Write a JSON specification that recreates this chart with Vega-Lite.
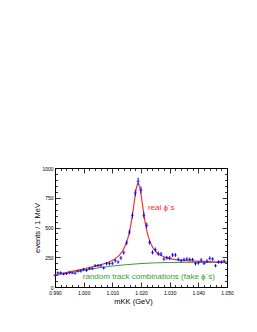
{
  "$schema": "https://vega.github.io/schema/vega-lite/v6.json",
  "autosize": "none",
  "padding": {"left": 55, "top": 168, "right": 30, "bottom": 45},
  "width": 172,
  "height": 119,
  "background": "white",
  "config": {
    "view": {"stroke": "black", "strokeWidth": 1},
    "axis": {"grid": false, "domainColor": "black", "tickColor": "black", "labelColor": "black", "titleColor": "black", "labelFont": "Liberation Sans", "titleFont": "Liberation Sans", "labelFontSize": 5, "titleFontSize": 7.5, "titleFontWeight": "normal", "tickWidth": 0.8, "domainWidth": 1}
  },
  "datasets": {
    "pts": [
      {"m": 0.990, "n": 98, "e": 10}, {"m": 0.991, "n": 120, "e": 11}, {"m": 0.992, "n": 120, "e": 11},
      {"m": 0.993, "n": 109, "e": 10}, {"m": 0.994, "n": 112, "e": 11}, {"m": 0.995, "n": 120, "e": 11},
      {"m": 0.996, "n": 118, "e": 11}, {"m": 0.997, "n": 115, "e": 11}, {"m": 0.998, "n": 132, "e": 11},
      {"m": 0.999, "n": 134, "e": 12}, {"m": 1.000, "n": 146, "e": 12}, {"m": 1.001, "n": 140, "e": 12},
      {"m": 1.002, "n": 154, "e": 12}, {"m": 1.003, "n": 154, "e": 12}, {"m": 1.004, "n": 179, "e": 13},
      {"m": 1.005, "n": 179, "e": 13}, {"m": 1.006, "n": 179, "e": 13}, {"m": 1.007, "n": 160, "e": 13},
      {"m": 1.008, "n": 196, "e": 14}, {"m": 1.009, "n": 196, "e": 14}, {"m": 1.010, "n": 199, "e": 14},
      {"m": 1.011, "n": 221, "e": 15}, {"m": 1.012, "n": 210, "e": 14}, {"m": 1.013, "n": 244, "e": 16},
      {"m": 1.014, "n": 289, "e": 17}, {"m": 1.015, "n": 372, "e": 19}, {"m": 1.016, "n": 462, "e": 21},
      {"m": 1.017, "n": 602, "e": 25}, {"m": 1.018, "n": 790, "e": 28}, {"m": 1.019, "n": 888, "e": 30},
      {"m": 1.020, "n": 815, "e": 29}, {"m": 1.021, "n": 602, "e": 25}, {"m": 1.022, "n": 518, "e": 23},
      {"m": 1.023, "n": 375, "e": 19}, {"m": 1.024, "n": 291, "e": 17}, {"m": 1.025, "n": 314, "e": 18},
      {"m": 1.026, "n": 280, "e": 17}, {"m": 1.027, "n": 277, "e": 17}, {"m": 1.028, "n": 235, "e": 15},
      {"m": 1.029, "n": 246, "e": 16}, {"m": 1.030, "n": 244, "e": 16}, {"m": 1.031, "n": 269, "e": 16},
      {"m": 1.032, "n": 269, "e": 16}, {"m": 1.033, "n": 232, "e": 15}, {"m": 1.034, "n": 221, "e": 15},
      {"m": 1.035, "n": 230, "e": 15}, {"m": 1.036, "n": 235, "e": 15}, {"m": 1.037, "n": 232, "e": 15},
      {"m": 1.038, "n": 230, "e": 15}, {"m": 1.039, "n": 196, "e": 14}, {"m": 1.040, "n": 202, "e": 14},
      {"m": 1.041, "n": 227, "e": 15}, {"m": 1.042, "n": 199, "e": 14}, {"m": 1.043, "n": 218, "e": 15},
      {"m": 1.044, "n": 241, "e": 16}, {"m": 1.045, "n": 235, "e": 15}, {"m": 1.046, "n": 179, "e": 13},
      {"m": 1.047, "n": 210, "e": 14}, {"m": 1.048, "n": 210, "e": 14}, {"m": 1.049, "n": 218, "e": 15}
    ],
    "fit": [
      {"m": 0.990, "v": 103}, {"m": 0.995, "v": 127}, {"m": 1.000, "v": 153}, {"m": 1.004, "v": 175},
      {"m": 1.007, "v": 194}, {"m": 1.009, "v": 212}, {"m": 1.011, "v": 238}, {"m": 1.012, "v": 257},
      {"m": 1.013, "v": 283}, {"m": 1.014, "v": 321}, {"m": 1.015, "v": 378}, {"m": 1.0155, "v": 417},
      {"m": 1.016, "v": 467}, {"m": 1.0165, "v": 528}, {"m": 1.017, "v": 604}, {"m": 1.0175, "v": 688},
      {"m": 1.018, "v": 775}, {"m": 1.0185, "v": 843}, {"m": 1.019, "v": 870}, {"m": 1.0195, "v": 845},
      {"m": 1.020, "v": 779}, {"m": 1.0205, "v": 694}, {"m": 1.021, "v": 610}, {"m": 1.0215, "v": 536},
      {"m": 1.022, "v": 476}, {"m": 1.0225, "v": 428}, {"m": 1.023, "v": 390}, {"m": 1.024, "v": 337},
      {"m": 1.025, "v": 303}, {"m": 1.026, "v": 280}, {"m": 1.027, "v": 264}, {"m": 1.029, "v": 245},
      {"m": 1.031, "v": 234}, {"m": 1.033, "v": 227}, {"m": 1.036, "v": 221}, {"m": 1.039, "v": 217},
      {"m": 1.044, "v": 213}, {"m": 1.050, "v": 209}
    ],
    "bg": [
      {"m": 0.990, "v": 98}, {"m": 0.995, "v": 120}, {"m": 1.000, "v": 142}, {"m": 1.005, "v": 160},
      {"m": 1.010, "v": 176}, {"m": 1.015, "v": 188}, {"m": 1.020, "v": 197}, {"m": 1.025, "v": 203},
      {"m": 1.030, "v": 206}, {"m": 1.035, "v": 207}, {"m": 1.040, "v": 207}, {"m": 1.045, "v": 206},
      {"m": 1.050, "v": 205}
    ]
  },
  "layer": [
    {
      "data": {"name": "bg"},
      "mark": {"type": "line", "color": "#33a033", "strokeWidth": 1, "interpolate": "monotone"},
      "encoding": {
        "x": {"field": "m", "type": "quantitative", "scale": {"domain": [0.99, 1.05], "nice": false, "zero": false},
          "axis": {"orient": "bottom", "title": "mKK (GeV)", "titleFontWeight": "normal", "titleX": 78, "titleY": 14, "titleBaseline": "middle", "titleAlign": "center",
            "values": [0.990, 0.992, 0.994, 0.996, 0.998, 1.000, 1.002, 1.004, 1.006, 1.008, 1.010, 1.012, 1.014, 1.016, 1.018, 1.020, 1.022, 1.024, 1.026, 1.028, 1.030, 1.032, 1.034, 1.036, 1.038, 1.040, 1.042, 1.044, 1.046, 1.048, 1.050],
            "labelExpr": "abs(datum.value*100 - round(datum.value*100)) < 0.01 ? format(datum.value, '.3f') : ''",
            "tickSize": {"condition": {"test": "abs(datum.value*100 - round(datum.value*100)) < 0.01", "value": -5}, "value": -2.5},
            "labelPadding": 8, "labelFlush": false, "labelOverlap": false}},
        "y": {"field": "v", "type": "quantitative", "scale": {"domain": [0, 1000], "nice": false},
          "axis": {"orient": "left", "title": "events / 1 MeV", "titleFontWeight": "normal", "titleX": -18, "titleY": 59.5, "titleBaseline": "middle", "titleAlign": "center", "titleAngle": -90,
            "values": [0, 50, 100, 150, 200, 250, 300, 350, 400, 450, 500, 550, 600, 650, 700, 750, 800, 850, 900, 950, 1000],
            "labelExpr": "datum.value % 250 == 0 ? datum.value : ''",
            "tickSize": {"condition": {"test": "datum.value % 250 == 0", "value": -5}, "value": -2.5},
            "labelPadding": 7, "labelFlush": false, "labelOverlap": false}}
      }
    },
    {
      "data": {"name": "fit"},
      "mark": {"type": "line", "color": "#ff3030", "strokeWidth": 1.2, "interpolate": "monotone"},
      "encoding": {
        "x": {"field": "m", "type": "quantitative",
          "axis": {"orient": "top", "title": null, "labels": false,
            "values": [0.990, 0.992, 0.994, 0.996, 0.998, 1.000, 1.002, 1.004, 1.006, 1.008, 1.010, 1.012, 1.014, 1.016, 1.018, 1.020, 1.022, 1.024, 1.026, 1.028, 1.030, 1.032, 1.034, 1.036, 1.038, 1.040, 1.042, 1.044, 1.046, 1.048, 1.050],
            "tickSize": {"condition": {"test": "abs(datum.value*100 - round(datum.value*100)) < 0.01", "value": -5}, "value": -2.5}}},
        "y": {"field": "v", "type": "quantitative",
          "axis": {"orient": "right", "title": null, "labels": false,
            "values": [0, 50, 100, 150, 200, 250, 300, 350, 400, 450, 500, 550, 600, 650, 700, 750, 800, 850, 900, 950, 1000],
            "tickSize": {"condition": {"test": "datum.value % 250 == 0", "value": -5}, "value": -2.5}}}
      }
    },
    {
      "data": {"name": "pts"},
      "mark": {"type": "errorbar", "color": "#0000ff", "thickness": 1},
      "encoding": {
        "x": {"field": "m", "type": "quantitative", "axis": null},
        "y": {"field": "n", "type": "quantitative", "axis": null},
        "yError": {"field": "e"}
      }
    },
    {
      "data": {"name": "pts"},
      "mark": {"type": "tick", "orient": "horizontal", "color": "#0000ff", "size": 3, "thickness": 1},
      "encoding": {
        "x": {"field": "m", "type": "quantitative", "axis": null},
        "y": {"field": "n", "type": "quantitative", "axis": null}
      }
    },
    {
      "data": {"values": [{"m": 1.0224, "v": 664, "t": "real ϕ´s"}]},
      "mark": {"type": "text", "color": "#ff3030", "align": "left", "baseline": "middle", "fontSize": 8, "font": "Liberation Sans"},
      "encoding": {
        "x": {"field": "m", "type": "quantitative", "axis": null},
        "y": {"field": "v", "type": "quantitative", "axis": null},
        "text": {"field": "t"}
      }
    },
    {
      "data": {"values": [{"m": 0.9997, "v": 81, "t": "random track combinations (fake ϕ´s)"}]},
      "mark": {"type": "text", "color": "#33a033", "align": "left", "baseline": "middle", "fontSize": 8, "font": "Liberation Sans"},
      "encoding": {
        "x": {"field": "m", "type": "quantitative", "axis": null},
        "y": {"field": "v", "type": "quantitative", "axis": null},
        "text": {"field": "t"}
      }
    }
  ],
  "resolve": {"axis": {"x": "independent", "y": "independent"}}
}
